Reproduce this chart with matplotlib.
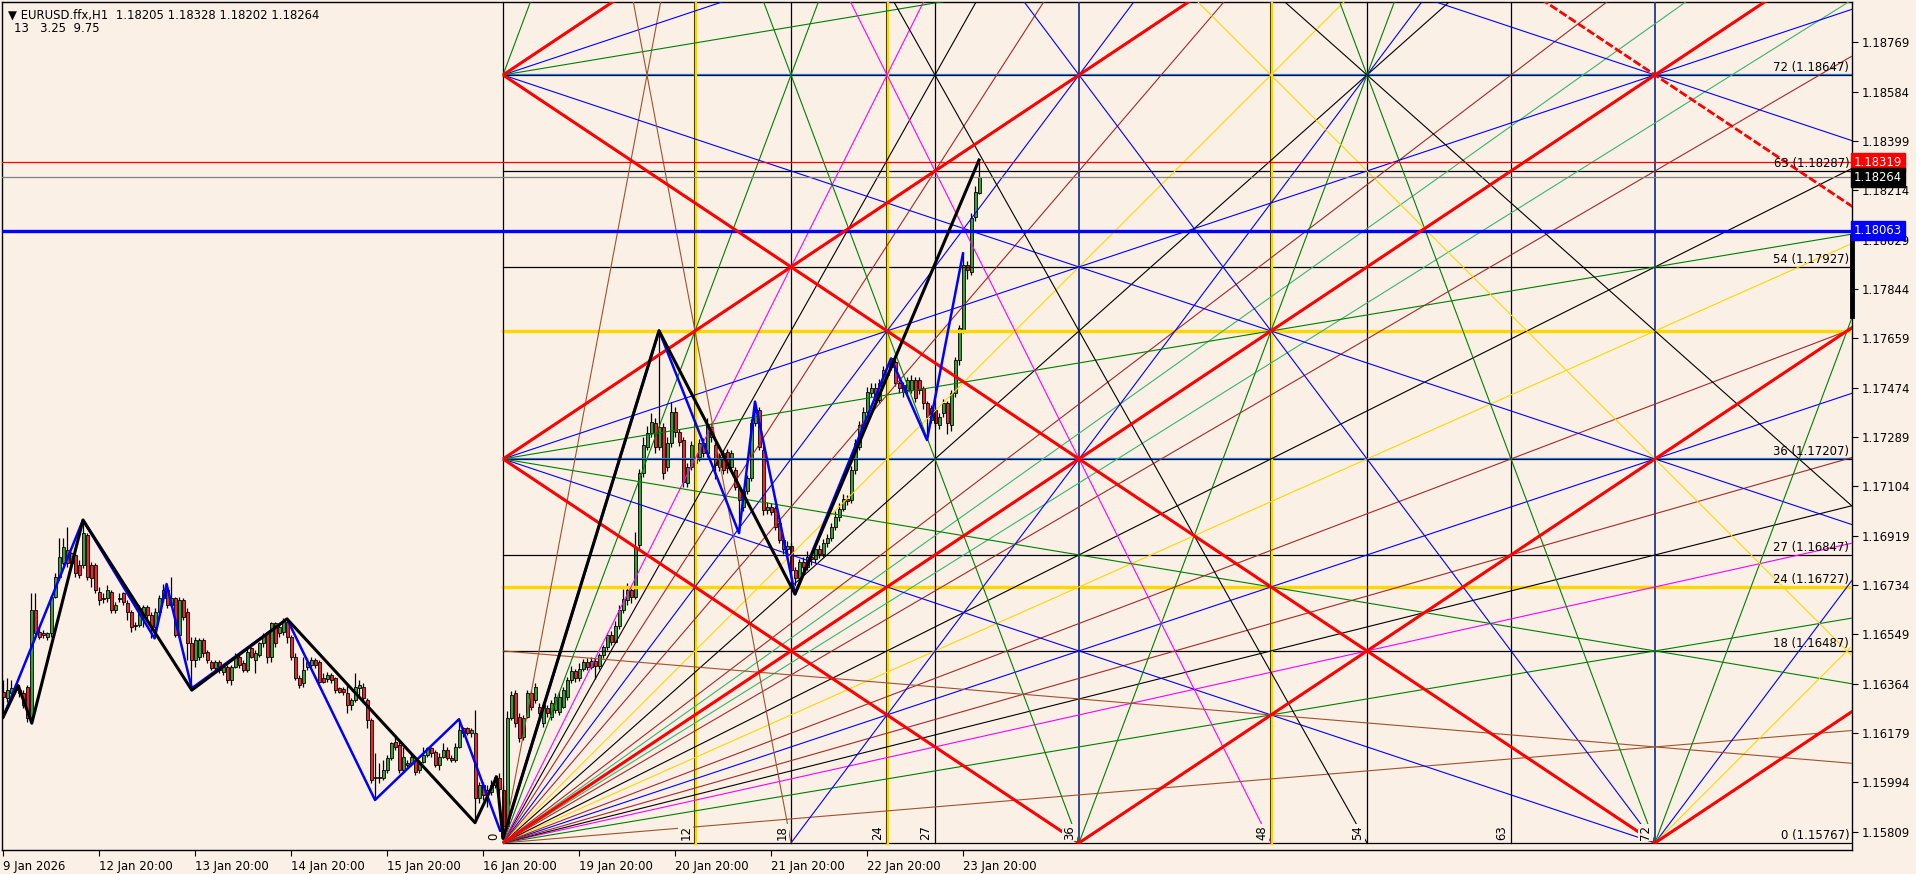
import numpy as np
import matplotlib
matplotlib.use('Agg')
import matplotlib.pyplot as plt
from matplotlib.transforms import blended_transform_factory

# ---------------- data ----------------
# hourly candles, prices in points (1e-5) above 1.15000
opens = [1334,1309,1328,1341,1341,1328,1353,1234,1641,1559,
         1553,1541,1553,1691,1766,1816,1866,1816,1847,1809,
         1809,1922,1809,1809,1709,1684,1684,1709,1641,1684,
         1703,1666,1634,1586,1584,1616,1653,1622,1578,1634,
         1684,1716,1659,1684,1547,1678,1634,1516,1453,1466,
         1528,1484,1447,1422,1447,1409,1428,1378,1428,1466,
         1441,1416,1497,1453,1472,1516,1553,1466,1591,1553,
         1559,1597,1541,1466,1384,1366,1428,1434,1453,1447,
         1384,1381,1397,1384,1347,1343,1328,1284,1303,1347,
         1353,1303,1228,1009,1016,1009,1041,1084,1147,1134,
         1041,1066,1066,1078,1041,1072,1097,1122,1109,1059,
         1091,1116,1084,1078,1128,1197,1197,1178,1178,934,
         984,966,959,984,1010,965,830,1234,1328,1241,
         1166,1241,1328,1303,1278,1216,1272,1241,1266,1259,
         1278,1316,1378,1410,1385,1420,1445,1425,1450,1430,
         1470,1500,1545,1520,1580,1640,1678,1716,1690,1884,
         2153,2253,2303,2340,2253,2328,2178,2266,2384,2309,
         2278,2116,2178,2228,2216,2266,2228,2328,2259,2178,
         2228,2234,2178,2166,2097,2028,2085,2134,2341,2390,
         2241,2016,2028,2022,1966,1903,1870,1880,1790,1760,
         1820,1800,1840,1830,1870,1850,1890,1910,1950,1990,
         2020,2055,2053,2166,2253,2334,2384,2453,2472,2428,
         2491,2522,2553,2572,2491,2484,2466,2466,2503,2503,
         2472,2416,2353,2391,2334,2378,2416,2334,2453,2578,
         2691,2934,2909,3116,3205]
highs = [1378,1384,1378,1363,1359,1340,1359,1703,1703,1572,
         1565,1559,1697,1778,1909,1909,1953,1859,1853,1828,
         1978,1928,1822,1816,1728,1703,1734,1716,1672,1703,
         1709,1678,1641,1597,1659,1659,1659,1634,1647,1697,
         1738,1728,1765,1690,1690,1684,1647,1541,1541,1534,
         1534,1491,1453,1453,1453,1434,1434,1434,1478,1472,
         1453,1497,1503,1491,1522,1553,1559,1597,1597,1591,
         1609,1607,1547,1478,1397,1466,1459,1466,1459,1453,
         1403,1409,1403,1391,1353,1353,1366,1309,1403,1378,
         1366,1309,1234,1103,1065,1078,1097,1147,1165,1153,
         1128,1078,1103,1091,1078,1128,1128,1128,1115,1103,
         1141,1128,1097,1141,1231,1203,1203,1197,1266,997,
         997,984,1003,1022,1030,985,1260,1335,1340,1253,
         1247,1340,1341,1366,1290,1297,1284,1303,1328,1335,
         1353,1391,1430,1420,1440,1455,1460,1465,1460,1480,
         1510,1555,1560,1600,1660,1720,1740,1730,1934,2170,
         2290,2330,2380,2360,2688,2340,2290,2420,2400,2320,
         2290,2190,2275,2240,2280,2285,2360,2340,2270,2230,
         2240,2245,2240,2175,2105,2095,2145,2355,2422,2400,
         2255,2045,2040,2030,1975,1915,1900,1890,1800,1830,
         1840,1860,1855,1880,1885,1905,1925,1965,2010,2040,
         2075,2070,2180,2280,2350,2400,2475,2490,2490,2505,
         2555,2585,2584,2580,2500,2495,2515,2520,2515,2515,
         2480,2425,2410,2400,2380,2430,2425,2465,2590,2710,
         2978,2950,3130,3230,3328]
lows = [1238,1297,1316,1328,1316,1272,1222,1216,1541,1530,
        1534,1528,1541,1684,1753,1809,1803,1803,1766,1759,
        1797,1753,1728,1703,1659,1666,1672,1628,1628,1672,
        1659,1603,1559,1565,1578,1578,1603,1534,1566,1622,
        1672,1647,1653,1541,1541,1603,1453,1341,1428,1453,
        1466,1441,1416,1416,1403,1397,1366,1359,1422,1422,
        1409,1409,1459,1403,1466,1503,1441,1447,1503,1541,
        1547,1516,1453,1378,1347,1353,1416,1428,1422,1366,
        1366,1372,1366,1328,1328,1322,1253,1266,1297,1316,
        1297,1197,990,928,990,1003,1028,1078,1115,1028,
        1028,1053,1059,1022,1028,1066,1090,1090,1053,1041,
        1084,1078,1072,1072,1122,1166,1172,1166,843,916,
        928,903,947,972,950,784,820,1228,1203,1147,
        1153,1234,1266,1291,1241,1203,1241,1228,1253,1247,
        1272,1303,1365,1370,1375,1410,1415,1420,1380,1420,
        1460,1490,1510,1515,1570,1630,1660,1665,1680,1870,
        2140,2240,2290,2230,2240,2130,2160,2250,2290,2255,
        2100,2100,2165,2175,2200,2215,2215,2270,2130,2160,
        2150,2155,2165,2090,1930,2010,2075,2125,2330,2240,
        1995,2000,1995,1940,1890,1850,1830,1760,1700,1740,
        1780,1790,1810,1815,1835,1840,1875,1900,1940,1975,
        2010,2035,2040,2150,2240,2320,2370,2440,2415,2415,
        2480,2510,2540,2480,2455,2440,2450,2455,2420,2450,
        2395,2278,2340,2330,2320,2365,2300,2310,2440,2560,
        2680,2880,2895,3100,3202]
closes = [1316,1341,1347,1353,1328,1284,1234,1641,1553,1541,
          1547,1553,1691,1766,1841,1878,1816,1853,1778,1772,
          1928,1766,1759,1716,1678,1680,1716,1641,1659,1680,
          1672,1634,1578,1581,1647,1653,1622,1578,1634,1684,
          1716,1659,1684,1547,1678,1616,1516,1453,1528,1528,
          1478,1453,1422,1447,1416,1428,1378,1428,1466,1434,
          1416,1484,1466,1478,1516,1547,1466,1591,1516,1578,
          1597,1541,1466,1384,1359,1416,1447,1453,1434,1372,
          1372,1397,1378,1341,1334,1333,1284,1303,1353,1359,
          1309,1228,1003,1016,1009,1041,1084,1141,1128,1041,
          1091,1059,1091,1034,1072,1097,1122,1103,1059,1091,
          1116,1084,1078,1128,1191,1178,1178,1191,934,984,
          947,953,984,1016,970,830,1234,1322,1216,1159,
          1234,1328,1278,1353,1253,1284,1253,1291,1316,1316,
          1341,1378,1410,1385,1420,1445,1425,1450,1430,1470,
          1500,1545,1520,1580,1640,1680,1716,1690,1878,2153,
          2259,2303,2347,2253,2328,2153,2266,2384,2309,2272,
          2122,2178,2259,2191,2266,2228,2334,2291,2184,2216,
          2166,2172,2228,2103,2053,2085,2134,2341,2384,2253,
          2016,2028,2009,1953,1903,1870,1880,1790,1760,1820,
          1800,1840,1830,1870,1850,1890,1910,1950,1990,2020,
          2055,2050,2166,2266,2334,2384,2459,2472,2428,2491,
          2541,2578,2584,2491,2472,2459,2503,2503,2434,2466,
          2416,2366,2397,2341,2366,2416,2341,2453,2578,2697,
          2934,2916,3109,3209,3264]

# zigzag pivots (bar index, price)
black_zz_bar = [0, 3.8, 7.2, 20, 47.2, 71, 118, 123.4, 125, 164, 198, 244]
black_zz_px = [1.16238, 1.16357, 1.16216, 1.16978, 1.16340, 1.16607, 1.15843,
               1.16015, 1.15784, 1.17688, 1.16700, 1.18328]
blue_zz_bar = [0, 20, 37.9, 40.9, 47.2, 71, 93, 114, 125, 164, 184, 188, 198,
               222, 231, 240]
blue_zz_px = [1.16238, 1.16978, 1.16534, 1.16738, 1.16347, 1.16607, 1.15928,
              1.16231, 1.15784, 1.17688, 1.16929, 1.17422, 1.16700, 1.17584,
              1.17278, 1.17978]

# date axis
date_ticks = [0, 24, 48, 72, 96, 120, 144, 168, 192, 216, 240]
date_labels = ['9 Jan 2026', '12 Jan 20:00', '13 Jan 20:00', '14 Jan 20:00',
               '15 Jan 20:00', '16 Jan 20:00', '19 Jan 20:00', '20 Jan 20:00',
               '21 Jan 20:00', '22 Jan 20:00', '23 Jan 20:00']
price_ticks = [1.15809, 1.15994, 1.16179, 1.16364, 1.16549, 1.16734, 1.16919,
               1.17104, 1.17289, 1.17474, 1.17659, 1.17844, 1.18029, 1.18214,
               1.18399, 1.18584, 1.18769]

# gann grid: origin bar, origin price, 1 unit = 4 bars / 0.0004
g_bar0 = 125
g_px0 = 1.15767
g_bars_per_unit = 4
g_px_per_unit = 0.0004
h_levels = [0, 18, 24, 27, 36, 48, 54, 63, 72]
h_colors = ['black', 'black', 'gold', 'black', 'blue2', 'gold', 'black', 'black', 'blue2']
h_labelled = [0, 18, 24, 27, 36, 54, 63, 72]
v_levels = [0, 12, 18, 24, 27, 36, 48, 54, 63, 72]
v_colors = ['black', 'gold', 'black', 'gold', 'black', 'navy', 'gold', 'black', 'black', 'navy']

# fan from the grid origin to these grid points
fan_pts = [(72, 9), (72, 18), (72, 24), (72, 27), (72, 36), (72, 48), (72, 54), (72, 63),
           (63, 72), (54, 72), (48, 72), (36, 72), (27, 72), (24, 72), (18, 72), (9, 72),
           (63, 36), (63, 27), (36, 63), (27, 63), (67.5, 72), (72, 67.5)]
fan_cols = ['sienna', 'green', 'magenta', 'black', 'blue', 'gold', 'black', 'brown',
            'brown', 'black', 'gold', 'blue', 'black', 'magenta', 'green', 'sienna',
            'brown', 'brown', 'brown', 'brown', 'mediumseagreen', 'mediumseagreen']

# other gann lines, each through two grid points
other_lines = [
    (0, 72, 72, 36, 'blue'), (0, 72, 72, 108, 'blue'), (0, 36, 72, 72, 'blue'),
    (0, 36, 72, 0, 'blue'), (0, 108, 72, 72, 'blue'), (36, 72, 72, 0, 'blue'),
    (72, 0, 84, 24, 'blue'), (18, 0, 54, 72, 'blue'),
    (0, 36, 72, 54, 'green'), (0, 36, 72, 18, 'green'), (18, 72, 36, 0, 'green'),
    (36, 0, 54, 72, 'green'), (54, 72, 72, 0, 'green'), (72, 0, 90, 72, 'green'),
    (0, 72, 18, 144, 'green'), (0, 72, 72, 90, 'green'),
    (48, 72, 96, 0, 'gold'), (72, 0, 120, 72, 'gold'),
    (24, 72, 48, 0, 'magenta'),
    (27, 72, 54, 0, 'black'), (54, 72, 108, 0, 'black'),
    (9, 72, 18, 0, 'sienna'), (72, 9, 0, 18, 'sienna'),
]
red_lines = [(0, 72, 10, 82), (0, 36, 36, 72), (0, 0, 72, 72), (36, 0, 72, 36),
             (72, 0, 84, 12), (0, 36, 36, 0), (0, 72, 72, 0)]
red_dashed = [(72, 72, 84, 60)]

ask_px, bid_px, blue_px = 1.18319, 1.18264, 1.18063

# ---------------- drawing ----------------
BG = '#FAF0E6'
COL = {'sienna': '#A0522D', 'brown': '#A52A2A', 'green': '#008000', 'magenta': '#FF00FF',
       'blue': '#0000FF', 'gold': '#FFD700', 'black': '#000000',
       'mediumseagreen': '#3CB371'}
plt.rcParams['font.family'] = ['DejaVu Sans']
FS = 8.4

W, H = 1916, 874
fig = plt.figure(figsize=(W / 100, H / 100), dpi=100, facecolor=BG)
ax = fig.add_axes([2 / W, 24 / H, 1850 / W, 848 / H])
ax.set_facecolor(BG)
ax.set_xlim(-0.25, 462.25)
ax.set_ylim(1.157404, 1.189207)


def gx(t):
    return g_bar0 + g_bars_per_unit * np.asarray(t, float)


def gy(q):
    return g_px0 + g_px_per_unit * np.asarray(q, float)


def clip(t1, q1, t2, q2, tmin=0, tmax=84.6, qmin=0, qmax=80):
    dt, dq = t2 - t1, q2 - q1
    s0, s1 = -1e9, 1e9
    for p, v in ((-dt, t1 - tmin), (dt, tmax - t1), (-dq, q1 - qmin), (dq, qmax - q1)):
        if p == 0:
            if v < 0:
                return None
        else:
            r = v / p
            if p < 0:
                s0 = max(s0, r)
            else:
                s1 = min(s1, r)
    if s0 > s1:
        return None
    return t1 + s0 * dt, q1 + s0 * dq, t1 + s1 * dt, q1 + s1 * dq


def gline(t1, q1, t2, q2, color, lw=0.8, z=3, ls='-'):
    seg = clip(t1, q1, t2, q2)
    if seg is None:
        return
    a, b, c, d = seg
    ax.plot(gx([a, c]), gy([b, d]), color=color, lw=lw, zorder=z, ls=ls,
            solid_capstyle='butt')


# candles
x = np.arange(len(opens))
o = 1.15 + np.array(opens) / 1e5
h = 1.15 + np.array(highs) / 1e5
l = 1.15 + np.array(lows) / 1e5
c = 1.15 + np.array(closes) / 1e5
up = c >= o
ax.vlines(x, l, h, color='black', lw=0.9, zorder=2)
body = np.maximum(np.abs(c - o), 0.00002)
ax.bar(x, body, bottom=np.minimum(o, c), width=0.75,
       color=np.where(up, '#3A9D3A', '#E8262B'), edgecolor='black', lw=0.6, zorder=2)

# gann grid lines
right_bar = 462.25
for lev, col in zip(h_levels, h_colors):
    y = gy(lev)
    if col == 'gold':
        ax.plot([gx(0), right_bar], [y, y], color=COL['gold'], lw=2.4, zorder=3)
    elif col == 'blue2':
        ax.plot([gx(0), right_bar], [y, y], color='black', lw=0.9, zorder=3)
        ax.plot([gx(0), right_bar], [y + 0.00004, y + 0.00004], color='#1E78FF', lw=0.9, zorder=3)
    else:
        ax.plot([gx(0), right_bar], [y, y], color='black', lw=0.9, zorder=3)
for lev, col in zip(v_levels, v_colors):
    xx = gx(lev)
    if col == 'gold':
        ax.plot([xx, xx], [gy(0), 1.19], color=COL['gold'], lw=2.4, zorder=3)
        ax.plot([xx - 0.3, xx - 0.3], [gy(0), 1.19], color='black', lw=0.5, zorder=3)
    elif col == 'navy':
        ax.plot([xx, xx], [gy(0), 1.19], color='#1F3C88', lw=1.3, zorder=3)
    else:
        ax.plot([xx, xx], [gy(0), 1.19], color='black', lw=0.9, zorder=3)

# fans and other angle lines
for (tt, qq), col in zip(fan_pts, fan_cols):
    gline(0, 0, tt, qq, COL[col])
for t1, q1, t2, q2, col in other_lines:
    gline(t1, q1, t2, q2, COL[col])
for t1, q1, t2, q2 in red_lines:
    gline(t1, q1, t2, q2, '#FF0000', lw=2.2, z=3.5)
for t1, q1, t2, q2 in red_dashed:
    gline(t1, q1, t2, q2, '#FF0000', lw=2.0, z=3.5, ls=(0, (3, 1)))

# price lines
ax.axhline(ask_px, color='#FF0000', lw=0.9, zorder=3)
ax.axhline(bid_px, color='#808080', lw=0.9, zorder=3)
ax.axhline(blue_px, color='#0000FF', lw=2.4, zorder=3)

# zigzags
ax.plot(black_zz_bar, black_zz_px, color='black', lw=2.2, zorder=5)
ax.plot(blue_zz_bar, blue_zz_px, color='#0000FF', lw=1.8, zorder=4.8)

# gann labels
bt = blended_transform_factory(ax.transAxes, ax.transData)
for lev in h_labelled:
    ax.text(0.9985, gy(lev) + 0.00003, '%d (%.5f)' % (lev, gy(lev)), transform=bt,
            ha='right', va='bottom', fontsize=FS, zorder=6)
for lev in v_levels:
    xx = gx(lev)
    ax.text(xx - 2.3, gy(0) + 0.00012, str(lev), rotation=90, ha='center', va='bottom',
            fontsize=FS, zorder=6,
            bbox=dict(facecolor=BG, edgecolor='none', pad=0.6))
    ax.text(xx - 2.0, gy(0) - 0.00022, '.', ha='center', va='center', fontsize=6, zorder=6)

# axes styling
for s in ax.spines.values():
    s.set_color('black')
    s.set_linewidth(1)
ax.yaxis.tick_right()
ax.set_yticks(price_ticks)
ax.set_yticklabels(['%.5f' % p for p in price_ticks])
ax.set_xticks(date_ticks)
ax.set_xticklabels(date_labels, ha='left')
ax.tick_params(axis='y', direction='out', length=4, pad=3, labelsize=FS, colors='black')
ax.tick_params(axis='x', direction='out', length=4, pad=3, labelsize=FS, colors='black')
ax.grid(False)

# price tags on the right axis
for p, fc in ((ask_px, '#FF0000'), (bid_px, '#000000'), (blue_px, '#0000FF')):
    ax.text(1.0008, p, '%.5f' % p, transform=bt, ha='left', va='center', color='white',
            fontsize=FS, zorder=10, clip_on=False,
            bbox=dict(facecolor=fc, edgecolor=fc, boxstyle='square,pad=0.25'))
ax.plot([1.0, 1.0], [1.17742, 1.18042], transform=bt, color='black', lw=3.5,
        clip_on=False, zorder=9)

# header
fig.text(8 / W, 1 - 15 / H, '\u25BC EURUSD.ffx,H1  1.18205 1.18328 1.18202 1.18264',
         fontsize=FS, va='center', ha='left')
fig.text(14 / W, 1 - 28 / H, '13   3.25  9.75', fontsize=FS, va='center', ha='left')

fig.savefig('out.png', dpi=100, facecolor=BG)
